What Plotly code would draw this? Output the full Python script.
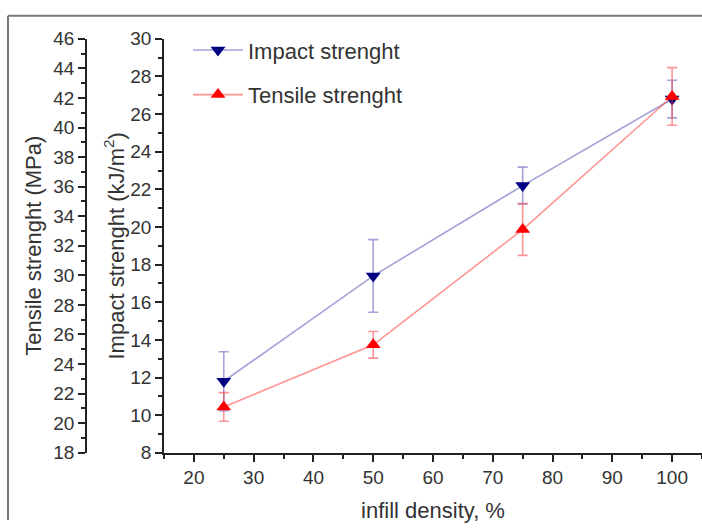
import plotly.graph_objects as go

infill = [25, 50, 75, 100]
impact = [11.8, 17.4, 22.2, 26.8]
impact_err = [1.57, 1.93, 0.98, 1.0]
tensile = [21.1, 25.3, 33.1, 42.1]
tensile_err = [0.97, 0.9, 1.75, 1.95]

W, H = 702, 531
x0, x1 = 164, 702
yt, yb = 30, 461

FONT = "Liberation Sans, Arial, sans-serif"
TXT = "#333333"

fig = go.Figure()
fig.add_trace(go.Scatter(
    x=infill, y=impact, name="Impact strenght", mode="lines+markers",
    line=dict(color="rgba(70,70,180,0.5)", width=1.6),
    marker=dict(symbol="triangle-down", size=13, color="#000080"),
    error_y=dict(type="data", array=impact_err, color="rgba(70,70,180,0.5)", thickness=1.6, width=5),
    yaxis="y", legendgroup="a",
))
fig.add_trace(go.Scatter(
    x=infill, y=tensile, name="Tensile strenght", mode="lines+markers",
    line=dict(color="rgba(255,60,60,0.55)", width=1.6),
    marker=dict(symbol="triangle-up", size=13, color="#ff0000"),
    error_y=dict(type="data", array=tensile_err, color="rgba(255,60,60,0.55)", thickness=1.6, width=5),
    yaxis="y2", legendgroup="b",
))

axis_common = dict(
    showline=True, linecolor="#222222", linewidth=1.5, ticks="outside",
    tickcolor="#222222", ticklen=7, tickwidth=1.5, showgrid=False, zeroline=False,
    tickfont=dict(family=FONT, size=19, color=TXT),
)
minor_common = dict(ticks="outside", ticklen=4, tickcolor="#222222", tickwidth=1.5)
TITLE_FONT = dict(family=FONT, size=22, color=TXT)

fig.update_layout(
    width=W, height=H, margin=dict(l=0, r=0, t=0, b=0),
    paper_bgcolor="white", plot_bgcolor="white",
    font=dict(family=FONT, color=TXT),
    xaxis=dict(
        **axis_common, domain=[x0 / W, x1 / W], range=[15, 105],
        tick0=20, dtick=10,
        minor=dict(**minor_common, dtick=5, tick0=20),
        title=dict(text="infill density, %", font=TITLE_FONT, standoff=15),
    ),
    yaxis=dict(
        **axis_common, domain=[(H - yb) / H, (H - yt) / H], range=[8, 30],
        tick0=8, dtick=2, anchor="x", side="left",
        minor=dict(**minor_common, dtick=1),
        title=dict(text="Impact strenght (kJ/m<sup>2</sup>)", font=TITLE_FONT, standoff=0),
    ),
    yaxis2=dict(
        **axis_common, range=[18, 46], tick0=18, dtick=2,
        overlaying="y", anchor="free", position=86 / W, side="left",
        minor=dict(**minor_common, dtick=1),
        title=dict(text="Tensile strenght (MPa)", font=TITLE_FONT, standoff=5),
    ),
    legend=dict(
        x=188 / W, y=1 - 20 / H, xanchor="left", yanchor="top",
        bgcolor="rgba(0,0,0,0)", tracegroupgap=13, itemwidth=50,
        font=dict(family=FONT, size=22, color=TXT),
    ),
    showlegend=True,
    shapes=[
        dict(type="line", xref="paper", yref="paper", x0=8 / W, x1=1, y0=1 - 6 / H, y1=1 - 6 / H,
             line=dict(color="#777777", width=2)),
        dict(type="line", xref="paper", yref="paper", x0=8 / W, x1=8 / W, y0=0, y1=1 - 6 / H,
             line=dict(color="#777777", width=2)),
    ],
)

fig.write_html("out.html")
